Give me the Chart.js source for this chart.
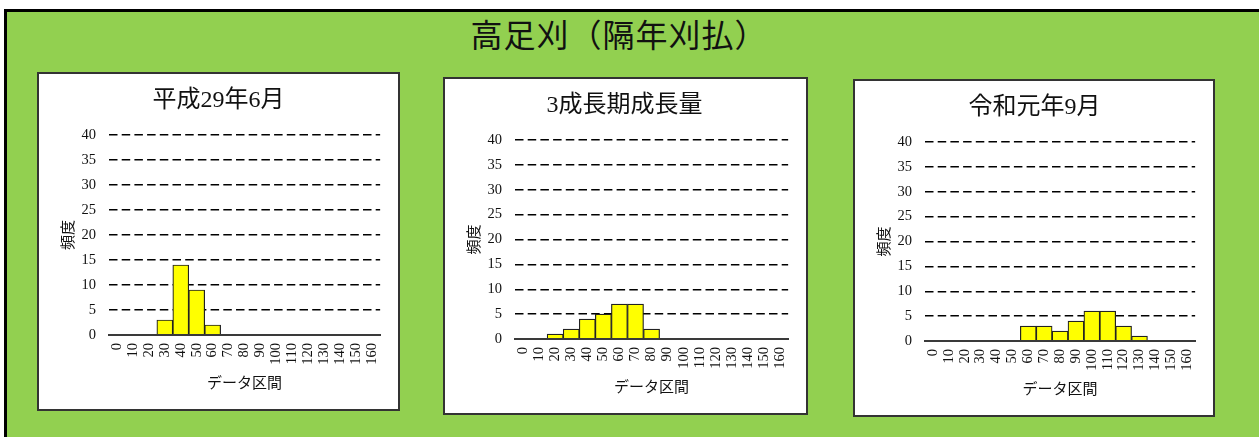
<!DOCTYPE html>
<html lang="ja">
<head>
<meta charset="utf-8">
<title>高足刈（隔年刈払）</title>
<script src="https://cdn.jsdelivr.net/npm/chart.js@4.4.1/dist/chart.umd.min.js"></script>
<style>
  html, body { margin: 0; padding: 0; background: #fff; overflow: hidden; width: 1259px; height: 437px; }
  #frame {
    position: absolute; left: 4px; top: 9px; width: 1300px; height: 480px;
    background: #92d050; border-left: 3px solid #000; border-top: 3px solid #000;
  }
  #heading {
    position: absolute; left: 319px; top: 13px; width: 600px; height: 40px;
    line-height: 40px; text-align: center; font-size: 32px; color: #111;
    letter-spacing: 1px;
    font-family: "Noto Sans CJK JP", sans-serif;
  }
  .panel { position: absolute; background: #fff; border: 2px solid #333; box-sizing: border-box; }
  .panel canvas { position: absolute; left: 0; top: 0; }
</style>
</head>
<body>
<div id="frame"></div>
<div id="heading">高足刈（隔年刈払）</div>

<div class="panel" style="left:37px; top:72px; width:363px; height:339px;">
  <canvas id="chart1" width="359" height="335"></canvas>
</div>
<div class="panel" style="left:443px; top:77px; width:365px; height:338px;">
  <canvas id="chart2" width="361" height="334"></canvas>
</div>
<div class="panel" style="left:853px; top:79px; width:362px; height:338px;">
  <canvas id="chart3" width="358" height="334"></canvas>
</div>

<script>
// data interval labels (x axis)
const intervals = ['0', '10', '20', '30', '40', '50', '60', '70', '80', '90',
  '100', '110', '120', '130', '140', '150', '160'];

// frequency per interval
const heisei29 = [0, 0, 0, 3, 14, 9, 2, 0, 0, 0, 0, 0, 0, 0, 0, 0, 0];
const growth3 = [0, 0, 1, 2, 4, 5, 7, 7, 2, 0, 0, 0, 0, 0, 0, 0, 0];
const reiwa1 = [0, 0, 0, 0, 0, 0, 3, 3, 2, 4, 6, 6, 3, 1, 0, 0, 0];

const chartTitles = ['平成29年6月', '3成長期成長量', '令和元年9月'];
const yTitle = '頻度';
const xTitle = 'データ区間';

const serif = "'Liberation Serif', 'Noto Sans CJK JP', serif";
const cjk = "'Noto Sans CJK JP', sans-serif";

Chart.defaults.color = '#111';

function makeChart(id, title, values) {
  const canvas = document.getElementById(id);
  const rightPad = canvas.width - 15 - 55 - 274;

  return new Chart(canvas.getContext('2d'), {
    type: 'bar',
    data: {
      labels: intervals,
      datasets: [{
        data: values,
        backgroundColor: '#ffff00',
        borderColor: '#222',
        borderWidth: 1.2,
        barPercentage: 1,
        categoryPercentage: 1
      }]
    },
    options: {
      responsive: false,
      animation: false,
      layout: { padding: { left: 15, right: rightPad, top: 0, bottom: 0 } },
      plugins: {
        legend: { display: false },
        tooltip: { enabled: false },
        title: {
          display: true,
          text: title,
          color: '#111',
          font: { family: serif, size: 24, weight: 'normal' },
          padding: { top: 12.6, bottom: 19.6 }
        }
      },
      scales: {
        x: {
          grid: { display: false, drawTicks: false },
          border: { display: true, color: '#3a3a3a', width: 2, z: 1 },
          ticks: {
            autoSkip: false,
            minRotation: 90,
            maxRotation: 90,
            padding: 8,
            font: { family: serif, size: 14.5 }
          },
          title: {
            display: true,
            text: xTitle,
            font: { family: cjk, size: 15 },
            padding: { top: 0, bottom: 17.5 }
          },
          afterFit: (s) => { s.height = 74; }
        },
        y: {
          min: 0,
          max: 40,
          grid: {
            drawTicks: false,
            lineWidth: 1.4,
            color: (c) => (c.tick && c.tick.value === 0) ? 'rgba(0,0,0,0)' : '#000'
          },
          border: { display: false, dash: [8.5, 4.2] },
          ticks: {
            stepSize: 5,
            padding: 13,
            font: { family: serif, size: 14.5 }
          },
          title: {
            display: true,
            text: yTitle,
            font: { family: cjk, size: 15 },
            padding: { top: 4.5, bottom: 0 }
          },
          afterFit: (s) => { s.width = 55; }
        }
      }
    }
  });
}

makeChart('chart1', chartTitles[0], heisei29);
makeChart('chart2', chartTitles[1], growth3);
makeChart('chart3', chartTitles[2], reiwa1);
</script>
</body>
</html>
